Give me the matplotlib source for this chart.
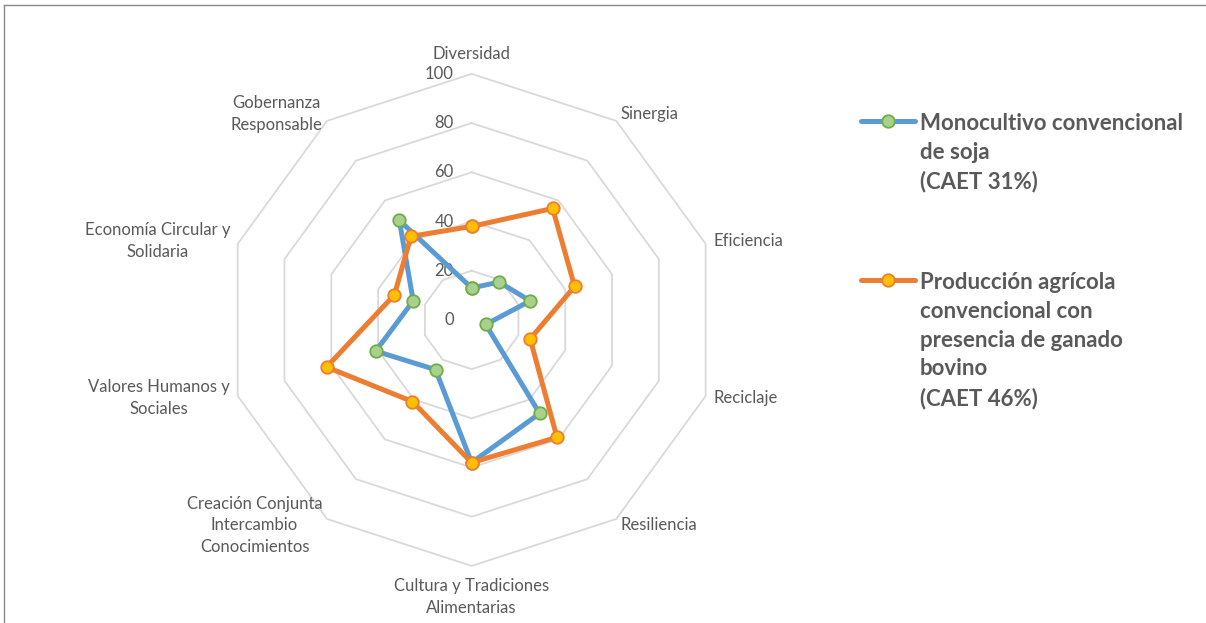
import numpy as np
import matplotlib
matplotlib.use('Agg')
import matplotlib.pyplot as plt
from matplotlib.lines import Line2D

plt.rcParams['font.family'] = ['Lato', 'DejaVu Sans']

# datos
categorias = ['Diversidad', 'Sinergia', 'Eficiencia', 'Reciclaje', 'Resiliencia',
              'Cultura y Tradiciones\nAlimentarias',
              'Creación Conjunta\nIntercambio\nConocimientos',
              'Valores Humanos y\nSociales', 'Economía Circular y\nSolidaria',
              'Gobernanza\nResponsable']
monocultivo = [13, 19, 25, 6, 47, 58, 25, 41, 25, 50]
ganado = [38, 56, 44, 25, 59, 58, 41, 62, 33, 42]
niveles = [0, 20, 40, 60, 80, 100]
leyenda = ['Monocultivo convencional\nde soja\n(CAET 31%)',
           'Producción agrícola\nconvencional con\npresencia de ganado\nbovino\n(CAET 46%)']

gris_txt = '#595959'
n = len(categorias)
theta = np.arange(n) * 2 * np.pi / n
theta_c = np.append(theta, theta[0])

fig = plt.figure(figsize=(12.06, 6.23), dpi=100)
ax = fig.add_axes([0.1871, 0.0915, 0.408, 0.790], projection='polar')
ax.set_theta_zero_location('N')
ax.set_theta_direction(-1)
ax.set_ylim(0, 100)
ax.grid(False)
ax.spines['polar'].set_visible(False)
ax.set_xticks([])
ax.set_yticks([])
ax.patch.set_alpha(0)

# rejilla decagonal
for r in niveles[1:]:
    ax.plot(theta_c, [r] * (n + 1), color='#D9D9D9', lw=1.3, zorder=1, clip_on=False)

# etiquetas del eje radial
for r in niveles:
    ax.annotate(str(r), xy=(0, r), xytext=(-18, 0), textcoords='offset pixels',
                ha='right', va='center', fontsize=12, color=gris_txt, zorder=2)

# etiquetas de categorias
for t, lab in zip(theta, categorias):
    s, c = np.sin(t), np.cos(t)
    if abs(s) < 0.01:
        ha = 'center'
        va = 'bottom' if c > 0 else 'top'
        off = (0, 12 * c)
    else:
        ha = 'left' if s > 0 else 'right'
        va = 'center'
        off = (8 * s, 8 * c)
    ax.annotate(lab, xy=(t, 100), xytext=off, textcoords='offset pixels',
                ha=ha, va=va, multialignment='center', fontsize=12, color=gris_txt,
                linespacing=1.45, annotation_clip=False)

# series
ax.plot(theta_c, monocultivo + monocultivo[:1], color='#5B9BD5', lw=3.6, marker='o',
        ms=9, mfc='#A9D18E', mec='#70AD47', mew=1.3, zorder=3, clip_on=False)
ax.plot(theta_c, ganado + ganado[:1], color='#ED7D31', lw=3.6, marker='o',
        ms=9, mfc='#FFC000', mec='#ED7D31', mew=1.3, zorder=4, clip_on=False)

# leyenda manual
W, H = 1206, 623
estilos = [dict(color='#5B9BD5', mfc='#A9D18E', mec='#70AD47'),
           dict(color='#ED7D31', mfc='#FFC000', mec='#ED7D31')]
for y0, lab, st in zip([121, 280], leyenda, estilos):
    fig.add_artist(Line2D([861 / W, 915 / W], [1 - y0 / H, 1 - y0 / H], lw=3.6,
                          color=st['color'], solid_capstyle='round'))
    fig.add_artist(Line2D([888 / W], [1 - y0 / H], marker='o', ms=9, mfc=st['mfc'],
                          mec=st['mec'], mew=1.3))
    fig.text(920 / W, 1 - (y0 - 8) / H, lab, ha='left', va='top', fontsize=16,
             fontweight='bold', color=gris_txt, linespacing=1.46)

# borde del area del grafico
fig.add_artist(Line2D([4 / W, 1], [1 - 5 / H, 1 - 5 / H], lw=1, color='#898989'))
fig.add_artist(Line2D([4 / W, 4 / W], [0, 1 - 5 / H], lw=1, color='#898989'))

fig.savefig('out.png', dpi=100)
